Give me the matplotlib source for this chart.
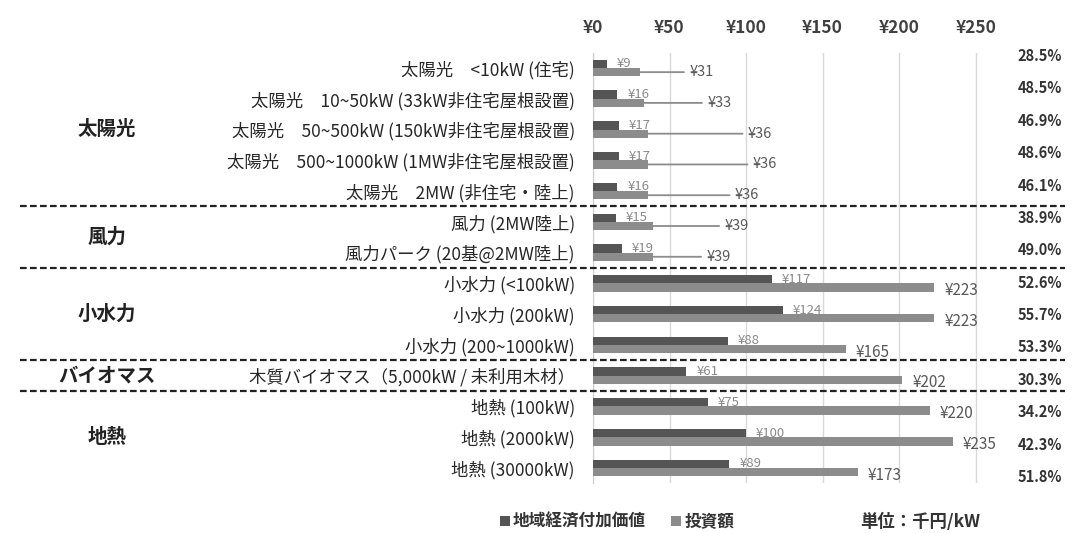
import numpy as np
import matplotlib
matplotlib.use("Agg")
import matplotlib.pyplot as plt
from matplotlib.lines import Line2D
from matplotlib.transforms import blended_transform_factory

plt.rcParams['font.family'] = ['Noto Sans CJK JP', 'DejaVu Sans']

# data
labels = ["太陽光　<10kW (住宅)",
          "太陽光　10~50kW (33kW非住宅屋根設置)",
          "太陽光　50~500kW (150kW非住宅屋根設置)",
          "太陽光　500~1000kW (1MW非住宅屋根設置)",
          "太陽光　2MW (非住宅・陸上)",
          "風力 (2MW陸上)",
          "風力パーク (20基@2MW陸上)",
          "小水力 (<100kW)",
          "小水力 (200kW)",
          "小水力 (200~1000kW)",
          "木質バイオマス（5,000kW / 未利用木材）",
          "地熱 (100kW)",
          "地熱 (2000kW)",
          "地熱 (30000kW)"]
value_added = [9, 16, 17, 17, 16, 15, 19, 117, 124, 88, 61, 75, 100, 89]
investment = [31, 33, 36, 36, 36, 39, 39, 223, 223, 165, 202, 220, 235, 173]
ratio = ["28.5%", "48.5%", "46.9%", "48.6%", "46.1%", "38.9%", "49.0%",
         "52.6%", "55.7%", "53.3%", "30.3%", "34.2%", "42.3%", "51.8%"]
groups = ["太陽光", "風力", "小水力", "バイオマス", "地熱"]
group_rows = [[0, 1, 2, 3, 4], [5, 6], [7, 8, 9], [10], [11, 12, 13]]
series_names = ["地域経済付加価値", "投資額"]
xticks = [0, 50, 100, 150, 200, 250]

# leader line offsets (px) for investment labels
lead_px = [49, 64, 100, 105, 87, 72, 54, 10, 10, 10, 10, 10, 10, 10]

dark = "#555555"
light = "#8c8c8c"

fig = plt.figure(figsize=(10.75, 5.33), dpi=100)
ax = fig.add_axes([593 / 1075, 1 - 483.4 / 533, (991 - 593) / 1075, (483.4 - 52.6) / 533])

y = np.arange(len(labels))
h = 0.27
b1 = ax.barh(y - h / 2, value_added, height=h, color=dark, label=series_names[0], zorder=3)
b2 = ax.barh(y + h / 2, investment, height=h, color=light, label=series_names[1], zorder=3)

for i in range(len(labels)):
    ax.annotate("¥%d" % value_added[i], xy=(value_added[i], y[i] - h / 2),
                xytext=(10, 0), textcoords="offset pixels", va="center", ha="left",
                fontsize=9.5, color="#8a8a8a", zorder=4)
    if lead_px[i] > 20:
        ax.annotate("¥%d" % investment[i], xy=(investment[i], y[i] + h / 2),
                    xytext=(lead_px[i], 0), textcoords="offset pixels", va="center",
                    ha="left", fontsize=10.5, color="#595959", zorder=4,
                    arrowprops=dict(arrowstyle="-", color="#8c8c8c", lw=1.3,
                                    shrinkA=2, shrinkB=0))
    else:
        ax.annotate("¥%d" % investment[i], xy=(investment[i], y[i] + h / 2),
                    xytext=(lead_px[i], -3), textcoords="offset pixels", va="center",
                    ha="left", fontsize=11, color="#595959", zorder=4)

ax.set_ylim(len(labels) - 0.5, -0.5)
ax.set_xlim(0, 260)
ax.set_yticks(y)
ax.set_yticklabels(labels, fontsize=12.5, color="#262626")
ax.tick_params(axis="y", length=0, pad=13)
ax.xaxis.tick_top()
ax.set_xticks(xticks)
ax.set_xticklabels(["¥%d" % t for t in xticks], fontsize=12.5, color="#404040", fontweight="bold")
ax.tick_params(axis="x", length=0, pad=11)
ax.grid(axis="x", color="#d9d9d9", lw=1, zorder=0)
for s in ["top", "right", "bottom"]:
    ax.spines[s].set_visible(False)
ax.spines["left"].set_color("#cccccc")

# group separators
tr = blended_transform_factory(fig.transFigure, ax.transData)
for g in group_rows[:-1]:
    yy = g[-1] + 0.5
    fig.add_artist(Line2D([20 / 1075, 1065 / 1075], [yy, yy], transform=tr,
                          color="#222222", lw=1.6, ls=(0, (3, 1.5))))

# group names
for name, rows in zip(groups, group_rows):
    yc = np.mean(rows)
    fig.text(107 / 1075, yc, name, transform=tr, ha="center", va="center",
             fontsize=14, fontweight="bold", color="#222222")

# ratio column
py = np.linspace(56, 477, len(ratio))
for r, p in zip(ratio, py):
    fig.text(1062 / 1075, 1 - p / 533, r, ha="right", va="center",
             fontsize=10.5, fontweight="bold", color="#333333")

leg = fig.legend(handles=[b1, b2], loc="center", bbox_to_anchor=(617 / 1075, 1 - 522 / 533),
                 ncol=2, frameon=False, fontsize=12, handlelength=0.6, handleheight=0.6,
                 handletextpad=0.2, columnspacing=1.5)
for t in leg.get_texts():
    t.set_color("#333333")
    t.set_fontweight("bold")
fig.text(920 / 1075, 1 - 522 / 533, "単位：千円/kW", ha="center", va="center",
         fontsize=12.5, fontweight="bold", color="#333333")

fig.savefig("out.png", dpi=100)
